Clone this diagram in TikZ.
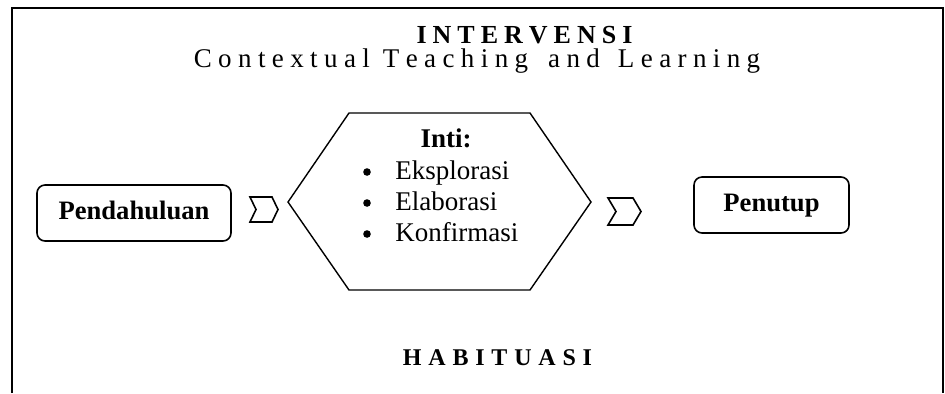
\documentclass[tikz,border=0pt]{standalone}
\usepackage{fontspec}
\setmainfont{Liberation Serif}
\usetikzlibrary{calc}
\makeatletter
% letter-spaced word
\newcommand{\spaced}[2]{\@tfor\spc@ltr:=#2\do{\spc@ltr\hskip#1}\unskip}
\makeatother
% chevron: centre, width, height, notch depth
\newcommand{\chevron}[4]{
  \draw[chev] ($(#1)+({-(#2)/2},{-(#3)/2})$) -- ++({#2-#4},0) -- ++(#4,{#3/2})
    -- ++({-#4},{#3/2}) -- ++({-(#2-#4)},0) -- ++(#4,{-#3/2}) -- cycle;
}

\begin{document}
\begin{tikzpicture}[x=0.5pt, y=-0.5pt, font=\fontsize{13.5}{15.5}\selectfont,
  stagebox/.style={draw, rounded corners=4pt, line width=0.8pt, minimum height=28pt,
    text height=9pt, text depth=3pt, font=\fontsize{13.3}{15.5}\selectfont\bfseries},
  core/.style={draw, line width=0.7pt, line join=miter},
  chev/.style={draw, line width=0.8pt, line join=miter},
  dot/.style={circle, fill, inner sep=0pt, minimum size=3.8pt},
  heading/.style={anchor=base, inner sep=0pt}]
\useasboundingbox (0,0) rectangle (945,393);

% frame, open at the bottom
\draw[line width=1pt] (12,393) -- (12,8) -- (943,8) -- (943,393);

% headings
\node[heading, font=\fontsize{13}{15}\selectfont\bfseries] (interv) at (524.5,43) {\spaced{3pt}{INTERVENSI}};
\node[heading, font=\fontsize{13.5}{15}\selectfont] (ctl) at (477,67)
  {\spaced{3.2pt}{Contextual}\hspace{6.5pt}\spaced{3.2pt}{Teaching}\hspace{10pt}\spaced{3.2pt}{and}\hspace{9pt}\spaced{3.2pt}{Learning}};
\node[heading, font=\fontsize{12}{14}\selectfont\bfseries] (habit) at (497.5,365) {\spaced{3.4pt}{HABITUASI}};

% stages
\node[stagebox, minimum width=97pt] (pend) at (134,213) {Pendahuluan};
\node[stagebox, minimum width=77.5pt] (penutup) at (771.5,205) {Penutup};

% core activities
\draw[core] (288,202) -- (349,113) -- (530,113) -- (591,202) -- (530,290) -- (349,290) -- cycle;
\node[heading, font=\fontsize{13.5}{15.5}\selectfont\bfseries] (inti) at (446,147) {Inti:};
\foreach \t [count=\i] in {Eksplorasi, Elaborasi, Konfirmasi} {
  \node[dot] (bul\i) at (367,{141+31*\i}) {};
  \node[heading, anchor=base west] (item\i) at (395,{148+31*\i}) {\t};
}

% chevrons between stages
\coordinate (chevA) at (264,209.5);
\coordinate (chevB) at (624.5,211.5);
\chevron{chevA}{28}{25}{6}
\chevron{chevB}{33}{27}{8}
\end{tikzpicture}
\end{document}
